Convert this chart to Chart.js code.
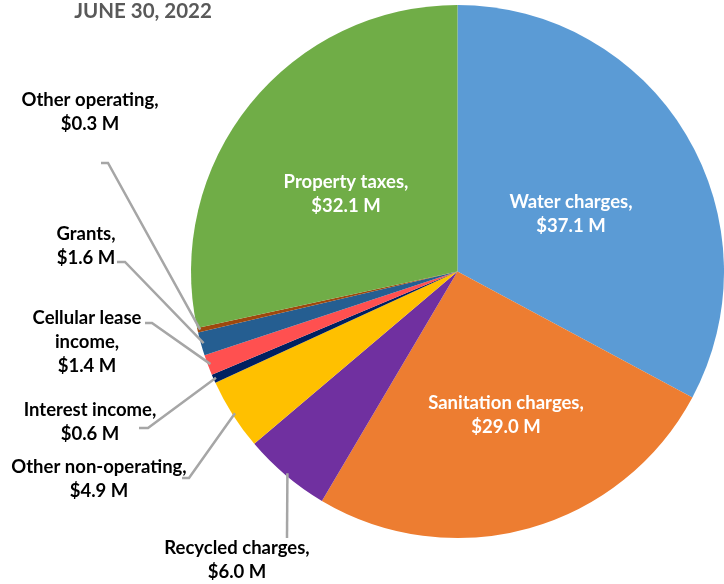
<!DOCTYPE html>
<html>
<head>
<meta charset="utf-8">
<script src="https://cdn.jsdelivr.net/npm/chart.js@4/dist/chart.umd.min.js"></script>
<style>
  html, body { margin: 0; padding: 0; background: #fff; }
  #wrap { width: 724px; height: 584px; position: relative; }
</style>
</head>
<body>
<div id="wrap"><canvas id="revenuePie"></canvas></div>
<script>
// revenue by source, $ millions
const categories = ['Water charges', 'Sanitation charges', 'Recycled charges', 'Other non-operating',
  'Interest income', 'Cellular lease\nincome', 'Grants', 'Other operating', 'Property taxes'];
const revenue = [37.1, 29.0, 6.0, 4.9, 0.6, 1.4, 1.6, 0.3, 32.1];
const sliceColors = ['#5B9BD5', '#ED7D31', '#7030A0', '#FFC000', '#002060', '#FF5050', '#255E91', '#9E480E', '#70AD47'];
const chartTitle = 'JUNE 30, 2022';

// where each label sits; outside ones get a leader line back to their slice
const labelLayout = [
  { inside: true, x: 571, y: 202 },
  { inside: true, x: 506, y: 403 },
  { x: 237, y: 548, elbow: [287, 538, 287, 538] },
  { x: 99, y: 467, elbow: [182, 478, 189, 478] },
  { x: 90, y: 410, elbow: [139, 428, 148, 428] },
  { x: 87, y: 318, elbow: [145, 323, 152, 323] },
  { x: 86, y: 234, elbow: [117, 262, 125, 262] },
  { x: 90, y: 100, elbow: [101, 163, 108, 163] },
  { inside: true, x: 346, y: 182 }
];

const FONT = 'bold 18.5px Lato, "Open Sans", sans-serif';
const LINE_H = 24;

const calloutPlugin = {
  id: 'callouts',
  afterDatasetsDraw(chart) {
    const ctx = chart.ctx;
    const arcs = chart.getDatasetMeta(0).data;
    ctx.save();

    // leader lines first so the text stays on top
    ctx.strokeStyle = '#A6A6A6';
    ctx.lineWidth = 2.5;
    arcs.forEach((arc, i) => {
      const pos = labelLayout[i];
      if (pos.inside) return;
      const p = arc.getProps(['x', 'y', 'startAngle', 'endAngle', 'outerRadius'], true);
      const mid = (p.startAngle + p.endAngle) / 2;
      const ex = p.x + Math.cos(mid) * p.outerRadius * 0.99;
      const ey = p.y + Math.sin(mid) * p.outerRadius * 0.99;
      ctx.beginPath();
      ctx.moveTo(pos.elbow[0], pos.elbow[1]);
      ctx.lineTo(pos.elbow[2], pos.elbow[3]);
      ctx.lineTo(ex, ey);
      ctx.stroke();
    });

    ctx.font = FONT;
    ctx.textAlign = 'center';
    ctx.textBaseline = 'middle';
    categories.forEach((name, i) => {
      const pos = labelLayout[i];
      const lines = (name + ',').split('\n');
      lines.push('$' + revenue[i].toFixed(1) + ' M');
      ctx.fillStyle = pos.inside ? '#ffffff' : '#000000';
      lines.forEach((t, k) => ctx.fillText(t, pos.x, pos.y + k * LINE_H));
    });

    ctx.fillStyle = '#595959';
    ctx.font = 'bold 20.5px Lato, "Open Sans", sans-serif';
    ctx.fillText(chartTitle, 143, 11);
    ctx.restore();
  }
};

new Chart(document.getElementById('revenuePie'), {
  type: 'pie',
  data: {
    labels: categories,
    datasets: [{
      data: revenue,
      backgroundColor: sliceColors,
      borderWidth: 0
    }]
  },
  options: {
    responsive: true,
    maintainAspectRatio: false,
    animation: false,
    layout: { padding: { left: 191, right: 0, top: 5, bottom: 46 } },
    plugins: {
      legend: { display: false },
      tooltip: { enabled: false },
      title: { display: false }
    }
  },
  plugins: [calloutPlugin]
});
</script>
</body>
</html>
